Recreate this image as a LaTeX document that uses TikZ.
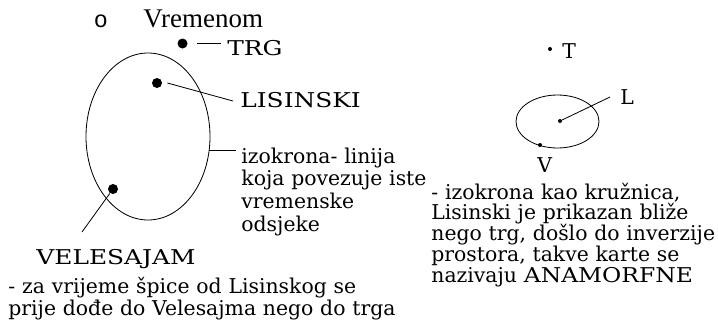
\documentclass[tikz,border=0pt]{standalone}
\usepackage{fontspec}
\usepackage{graphicx}
\setmainfont{DejaVu Serif}
\newfontfamily\timesfont{Liberation Serif}
\newfontfamily\bulletfont{Liberation Mono}
\newcommand\widecaps[2][1.22]{\scalebox{#1}[1]{#2}}
\tikzset{
  label text/.style={inner sep=0pt, anchor=base west, font=\fontsize{17.4}{18.5}\selectfont},
  para text/.style={label text, text width=#1, align=left},
  bigdot/.style={circle, fill, inner sep=0pt, minimum size=0.3cm},
  smalldot/.style={circle, fill, inner sep=0pt, minimum size=0.12cm},
}
\begin{document}
\begin{tikzpicture}[x=0.03cm, y=-0.03cm, line width=0.7pt]
\useasboundingbox (0,0) rectangle (718,327);

% heading
\node[inner sep=0pt, anchor=base, font=\bulletfont\fontsize{20}{20}\selectfont] (bullet) at (101,27) {o};
\node[inner sep=0pt, anchor=base west, font=\timesfont\fontsize{23}{23}\selectfont] (title) at (143,27) {Vremenom};

% left map: real distances
\draw (148,136.5) ellipse [x radius=62, y radius=83.5];
\node[bigdot] (trg) at (182.5,43.5) {};
\node[label text] (trglabel) at (227,55) {\widecaps{TRG}};
\coordinate (trgend) at (221,43);
\draw (trg.east) ++(9,-0.5) -- (trgend);
\node[bigdot] (lis) at (157,83) {};
\node[label text] (lislabel) at (240,107) {\widecaps{LISINSKI}};
\coordinate (lisend) at (233,101);
\draw (lis.east) ++(5,0) -- (lisend);
\coordinate (isoedge) at (209,150);
\coordinate (isoend) at (236,150);
\draw (isoedge) -- (isoend);
\node[para text=7cm, font=\fontsize{17.4}{19.6}\selectfont] (isotext) at (241,163)
  {izokrona- linija\\koja povezuje iste\\vremenske\\odsjeke};
\node[bigdot] (vel) at (113,189) {};
\node[label text] (vellabel) at (36,264) {\widecaps{VELESAJAM}};
\coordinate (velend) at (82,232);
\draw (vel) -- (velend);
\node[para text=13cm, font=\fontsize{17.4}{18.8}\selectfont] (leftnote) at (8,293)
  {- za vrijeme špice od Lisinskog se\\prije dođe do Velesajma nego do trga};

% right map: anamorphic
\draw (557.5,121.5) ellipse [x radius=41.5, y radius=26.5];
\node[smalldot] (t) at (550,49) {};
\node[label text] (tlabel) at (562,58) {T};
\node[smalldot] (l) at (560,121) {};
\coordinate (lend) at (610,97);
\draw (l) -- (lend);
\node[label text] (llabel) at (620,104) {L};
\node[smalldot] (v) at (540,145) {};
\node[label text] (vlabel) at (537,172) {V};
\node[para text=9.5cm, font=\fontsize{17.4}{17.9}\selectfont] (rightnote) at (431,199)
  {- izokrona kao kružnica,\\Lisinski je prikazan bliže\\nego trg, došlo do inverzije\\prostora, takve karte se\\nazivaju \widecaps[1.15]{ANAMORFNE}};
\end{tikzpicture}
\end{document}
